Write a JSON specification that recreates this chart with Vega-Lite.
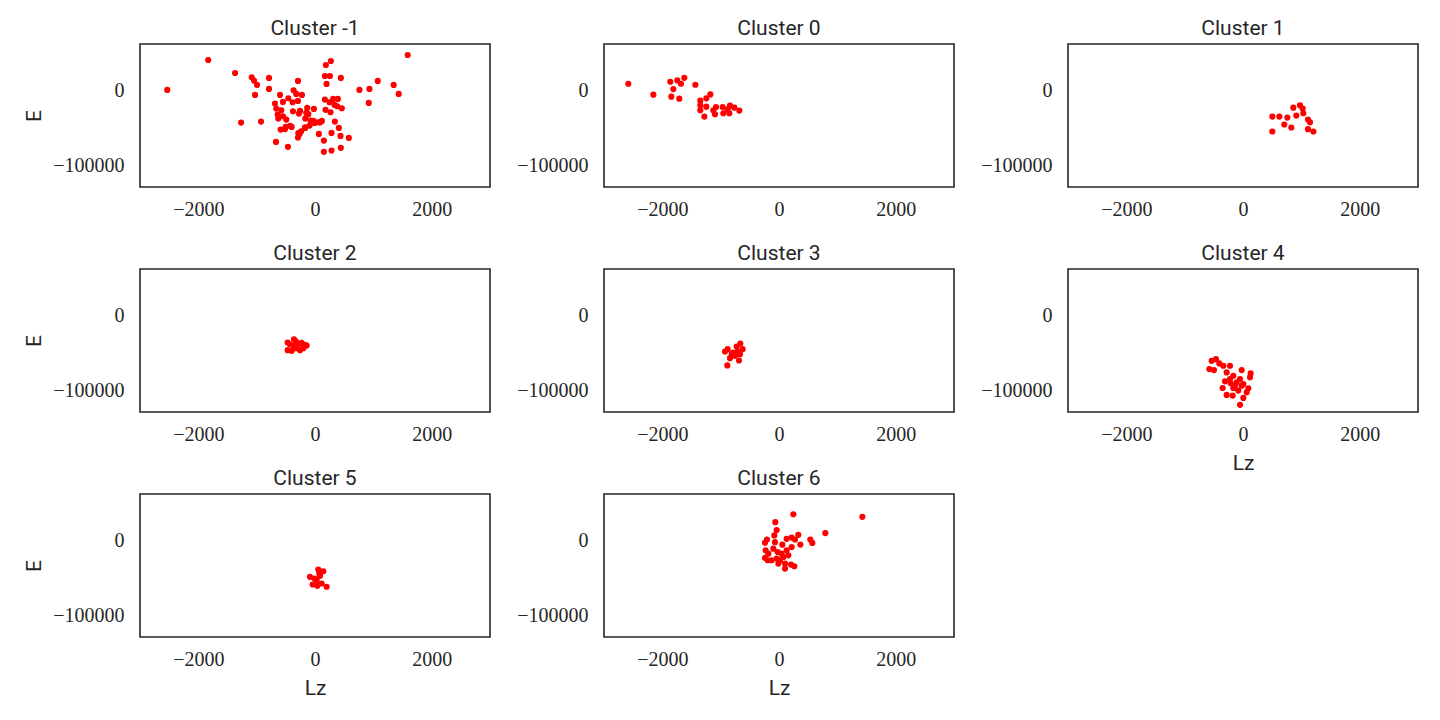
{
  "$schema": "https://vega.github.io/schema/vega-lite/v6.json",
  "background": "white",
  "padding": {"left": 22, "top": 17, "right": 5, "bottom": 5},
  "datasets": {
    "pts": [
      {"c": -1, "Lz": -2533, "E": 280}, {"c": -1, "Lz": -1831, "E": 39880}, {"c": -1, "Lz": -1370, "E": 22720},
      {"c": -1, "Lz": -1085, "E": 17000}, {"c": -1, "Lz": -1045, "E": 12600}, {"c": -1, "Lz": -994, "E": 6880},
      {"c": -1, "Lz": -788, "E": 16120}, {"c": -1, "Lz": -788, "E": 1600}, {"c": -1, "Lz": -1028, "E": -6320},
      {"c": -1, "Lz": -1267, "E": -42840}, {"c": -1, "Lz": -925, "E": -41520}, {"c": -1, "Lz": -669, "E": -68360},
      {"c": -1, "Lz": -464, "E": -74960}, {"c": -1, "Lz": -292, "E": 12160}, {"c": -1, "Lz": -367, "E": -160},
      {"c": -1, "Lz": -321, "E": -5000}, {"c": -1, "Lz": -224, "E": -6320}, {"c": -1, "Lz": -600, "E": -6320},
      {"c": -1, "Lz": -686, "E": -17760}, {"c": -1, "Lz": -549, "E": -15560}, {"c": -1, "Lz": -458, "E": -10720},
      {"c": -1, "Lz": -384, "E": -16000}, {"c": -1, "Lz": -292, "E": -14240}, {"c": -1, "Lz": -663, "E": -24360},
      {"c": -1, "Lz": -578, "E": -26560}, {"c": -1, "Lz": -640, "E": -32280}, {"c": -1, "Lz": -549, "E": -34480},
      {"c": -1, "Lz": -492, "E": -38880}, {"c": -1, "Lz": -629, "E": -37560}, {"c": -1, "Lz": -589, "E": -52080},
      {"c": -1, "Lz": -503, "E": -48560}, {"c": -1, "Lz": -401, "E": -48560}, {"c": -1, "Lz": -378, "E": -27880},
      {"c": -1, "Lz": -275, "E": -30960}, {"c": -1, "Lz": -133, "E": -23480}, {"c": -1, "Lz": -150, "E": -30080},
      {"c": -1, "Lz": -19, "E": -24800}, {"c": -1, "Lz": -167, "E": -37560}, {"c": -1, "Lz": -76, "E": -40200},
      {"c": -1, "Lz": -8, "E": -43280}, {"c": -1, "Lz": -93, "E": -46800}, {"c": -1, "Lz": -167, "E": -49880},
      {"c": -1, "Lz": -236, "E": -54280}, {"c": -1, "Lz": -292, "E": -62640}, {"c": -1, "Lz": -264, "E": -57800},
      {"c": -1, "Lz": 48, "E": -42400}, {"c": -1, "Lz": 118, "E": -40640}, {"c": -1, "Lz": 169, "E": -12480},
      {"c": -1, "Lz": 249, "E": -16000}, {"c": -1, "Lz": 312, "E": -11600}, {"c": -1, "Lz": 392, "E": -11600},
      {"c": -1, "Lz": 335, "E": -19520}, {"c": -1, "Lz": 381, "E": -21280}, {"c": -1, "Lz": 460, "E": -23920},
      {"c": -1, "Lz": 181, "E": -26000}, {"c": -1, "Lz": 266, "E": -29200}, {"c": -1, "Lz": 341, "E": -41520},
      {"c": -1, "Lz": 409, "E": -49880}, {"c": -1, "Lz": 283, "E": -56480}, {"c": -1, "Lz": 66, "E": -57800},
      {"c": -1, "Lz": 437, "E": -60440}, {"c": -1, "Lz": 580, "E": -63080}, {"c": -1, "Lz": 152, "E": -66600},
      {"c": -1, "Lz": 152, "E": -81560}, {"c": -1, "Lz": 283, "E": -79800}, {"c": -1, "Lz": 443, "E": -76280},
      {"c": -1, "Lz": 186, "E": 33280}, {"c": -1, "Lz": 272, "E": 38560}, {"c": -1, "Lz": 169, "E": 18760},
      {"c": -1, "Lz": 255, "E": 18760}, {"c": -1, "Lz": 198, "E": 8200}, {"c": -1, "Lz": 443, "E": 16120},
      {"c": -1, "Lz": 762, "E": 280}, {"c": -1, "Lz": 933, "E": 1600}, {"c": -1, "Lz": 1076, "E": 12160},
      {"c": -1, "Lz": 1349, "E": 6880}, {"c": -1, "Lz": 1435, "E": -5000}, {"c": -1, "Lz": 922, "E": -16880},
      {"c": -1, "Lz": 1589, "E": 46480}, {"c": -1, "Lz": -257, "E": -27400}, {"c": -1, "Lz": -114, "E": -31750},
      {"c": -1, "Lz": -429, "E": -47000}, {"c": -1, "Lz": -514, "E": -51500}, {"c": -1, "Lz": -171, "E": -49250},
      {"c": -1, "Lz": -29, "E": -40500}, {"c": -1, "Lz": -286, "E": -56800}, {"c": -1, "Lz": 86, "E": -42700},

      {"c": 0, "Lz": -2583, "E": 8440}, {"c": 0, "Lz": -2154, "E": -6010}, {"c": 0, "Lz": -1863, "E": 11070},
      {"c": 0, "Lz": -1743, "E": 12820}, {"c": 0, "Lz": -1680, "E": 8440}, {"c": 0, "Lz": -1623, "E": 16320},
      {"c": 0, "Lz": -1811, "E": 1430}, {"c": 0, "Lz": -1846, "E": -8640}, {"c": 0, "Lz": -1709, "E": -11270},
      {"c": 0, "Lz": -1434, "E": 7130}, {"c": 0, "Lz": -1177, "E": -5580}, {"c": 0, "Lz": -1246, "E": -10830},
      {"c": 0, "Lz": -1349, "E": -13900}, {"c": 0, "Lz": -1349, "E": -20030}, {"c": 0, "Lz": -1349, "E": -26600},
      {"c": 0, "Lz": -1246, "E": -21780}, {"c": 0, "Lz": -1280, "E": -34920}, {"c": 0, "Lz": -1126, "E": -26600},
      {"c": 0, "Lz": -1080, "E": -22220}, {"c": 0, "Lz": -1097, "E": -31860}, {"c": 0, "Lz": -966, "E": -22220},
      {"c": 0, "Lz": -954, "E": -30540}, {"c": 0, "Lz": -880, "E": -25290}, {"c": 0, "Lz": -840, "E": -20470},
      {"c": 0, "Lz": -851, "E": -30540}, {"c": 0, "Lz": -766, "E": -23100}, {"c": 0, "Lz": -680, "E": -27040},

      {"c": 1, "Lz": 503, "E": -34920}, {"c": 1, "Lz": 623, "E": -34920}, {"c": 1, "Lz": 760, "E": -36240},
      {"c": 1, "Lz": 863, "E": -23100}, {"c": 1, "Lz": 914, "E": -33610}, {"c": 1, "Lz": 977, "E": -20030},
      {"c": 1, "Lz": 1023, "E": -24410}, {"c": 1, "Lz": 1034, "E": -30540}, {"c": 1, "Lz": 1114, "E": -38860},
      {"c": 1, "Lz": 1149, "E": -42370}, {"c": 1, "Lz": 708, "E": -45430}, {"c": 1, "Lz": 828, "E": -49380},
      {"c": 1, "Lz": 503, "E": -54630}, {"c": 1, "Lz": 1114, "E": -51570}, {"c": 1, "Lz": 1206, "E": -54630},

      {"c": 2, "Lz": -469, "E": -36240}, {"c": 2, "Lz": -469, "E": -46310}, {"c": 2, "Lz": -360, "E": -31860},
      {"c": 2, "Lz": -371, "E": -40620}, {"c": 2, "Lz": -286, "E": -38430}, {"c": 2, "Lz": -171, "E": -39300},
      {"c": 2, "Lz": -257, "E": -46310}, {"c": 2, "Lz": -400, "E": -47180}, {"c": 2, "Lz": -314, "E": -43680},
      {"c": 2, "Lz": -200, "E": -43680}, {"c": 2, "Lz": -429, "E": -38430}, {"c": 2, "Lz": -326, "E": -34920},
      {"c": 2, "Lz": -229, "E": -36680}, {"c": 2, "Lz": -143, "E": -40180},

      {"c": 3, "Lz": -926, "E": -48060}, {"c": 3, "Lz": -880, "E": -44990}, {"c": 3, "Lz": -663, "E": -37550},
      {"c": 3, "Lz": -726, "E": -41490}, {"c": 3, "Lz": -623, "E": -44990}, {"c": 3, "Lz": -789, "E": -49380},
      {"c": 3, "Lz": -669, "E": -51570}, {"c": 3, "Lz": -840, "E": -56820}, {"c": 3, "Lz": -754, "E": -53760},
      {"c": 3, "Lz": -686, "E": -59890}, {"c": 3, "Lz": -886, "E": -66460}, {"c": 3, "Lz": -811, "E": -51570},
      {"c": 3, "Lz": -709, "E": -48060},

      {"c": 4, "Lz": -537, "E": -60330}, {"c": 4, "Lz": -463, "E": -58140}, {"c": 4, "Lz": -577, "E": -71280},
      {"c": 4, "Lz": -497, "E": -72590}, {"c": 4, "Lz": -406, "E": -63830}, {"c": 4, "Lz": -337, "E": -66900},
      {"c": 4, "Lz": -223, "E": -66900}, {"c": 4, "Lz": -280, "E": -75660}, {"c": 4, "Lz": -166, "E": -80040},
      {"c": 4, "Lz": -23, "E": -72590}, {"c": 4, "Lz": 131, "E": -76970}, {"c": 4, "Lz": 120, "E": -82230},
      {"c": 4, "Lz": -309, "E": -87480}, {"c": 4, "Lz": -223, "E": -84420}, {"c": 4, "Lz": -109, "E": -88800},
      {"c": 4, "Lz": -51, "E": -84420}, {"c": 4, "Lz": 6, "E": -90990}, {"c": 4, "Lz": -349, "E": -96240},
      {"c": 4, "Lz": -166, "E": -96240}, {"c": 4, "Lz": -80, "E": -99740}, {"c": 4, "Lz": 91, "E": -96680},
      {"c": 4, "Lz": 63, "E": -101940}, {"c": 4, "Lz": -280, "E": -105440}, {"c": 4, "Lz": -177, "E": -106320},
      {"c": 4, "Lz": 6, "E": -109380}, {"c": 4, "Lz": -51, "E": -118580}, {"c": 4, "Lz": -137, "E": -93180},
      {"c": 4, "Lz": -23, "E": -93180}, {"c": 4, "Lz": -211, "E": -90110},

      {"c": 5, "Lz": -86, "E": -48500}, {"c": 5, "Lz": 57, "E": -38860}, {"c": 5, "Lz": 143, "E": -41050},
      {"c": 5, "Lz": 86, "E": -47180}, {"c": 5, "Lz": 29, "E": -52880}, {"c": 5, "Lz": -40, "E": -58570},
      {"c": 5, "Lz": 40, "E": -60330}, {"c": 5, "Lz": 114, "E": -57260}, {"c": 5, "Lz": 200, "E": -61640},
      {"c": 5, "Lz": -11, "E": -50690}, {"c": 5, "Lz": 74, "E": -44120},

      {"c": 6, "Lz": 246, "E": 34280}, {"c": 6, "Lz": 1429, "E": 30780}, {"c": 6, "Lz": -63, "E": 23770},
      {"c": 6, "Lz": -40, "E": 13260}, {"c": 6, "Lz": -80, "E": 6250}, {"c": 6, "Lz": -206, "E": 870},
      {"c": 6, "Lz": -240, "E": -3510}, {"c": 6, "Lz": -69, "E": -2630}, {"c": 6, "Lz": 131, "E": 1750},
      {"c": 6, "Lz": 217, "E": 3370}, {"c": 6, "Lz": 274, "E": 870}, {"c": 6, "Lz": 331, "E": 7000},
      {"c": 6, "Lz": 366, "E": -5820}, {"c": 6, "Lz": 537, "E": 750}, {"c": 6, "Lz": 571, "E": -3630},
      {"c": 6, "Lz": 794, "E": 9320}, {"c": 6, "Lz": -229, "E": -13460}, {"c": 6, "Lz": -183, "E": -17840},
      {"c": 6, "Lz": -240, "E": -23530}, {"c": 6, "Lz": -194, "E": -26600}, {"c": 6, "Lz": -97, "E": -11270},
      {"c": 6, "Lz": -23, "E": -15650}, {"c": 6, "Lz": 57, "E": -6010}, {"c": 6, "Lz": 46, "E": -17840},
      {"c": 6, "Lz": 131, "E": -13460}, {"c": 6, "Lz": 217, "E": -9080}, {"c": 6, "Lz": -40, "E": -24410},
      {"c": 6, "Lz": 74, "E": -22220}, {"c": 6, "Lz": 160, "E": -20030}, {"c": 6, "Lz": -11, "E": -30980},
      {"c": 6, "Lz": 103, "E": -30980}, {"c": 6, "Lz": 103, "E": -37550}, {"c": 6, "Lz": 206, "E": -32290},
      {"c": 6, "Lz": 263, "E": -34480}, {"c": 6, "Lz": -126, "E": -26600}, {"c": 6, "Lz": 17, "E": -26600}
    ]
  },
  "data": {"name": "pts"},
  "columns": 3,
  "bounds": "flush",
  "spacing": {"row": 82, "column": 114},
  "concat": [
    {"title": "Cluster -1", "width": 350, "height": 143,
     "transform": [{"filter": "datum.c == -1"}],
     "mark": {"type": "circle", "size": 38, "color": "#ff0000", "opacity": 1},
     "encoding": {
       "x": {"field": "Lz", "type": "quantitative", "scale": {"domain": [-3000, 3000], "nice": false, "zero": false}, "axis": {"title": null, "values": [-2000, 0, 2000]}},
       "y": {"field": "E", "type": "quantitative", "scale": {"domain": [-128000, 61000], "nice": false, "zero": false}, "axis": {"title": "E", "values": [-100000, 0]}}
     }},
    {"title": "Cluster 0", "width": 350, "height": 143,
     "transform": [{"filter": "datum.c == 0"}],
     "mark": {"type": "circle", "size": 38, "color": "#ff0000", "opacity": 1},
     "encoding": {
       "x": {"field": "Lz", "type": "quantitative", "scale": {"domain": [-3000, 3000], "nice": false, "zero": false}, "axis": {"title": null, "values": [-2000, 0, 2000]}},
       "y": {"field": "E", "type": "quantitative", "scale": {"domain": [-128000, 61000], "nice": false, "zero": false}, "axis": {"title": null, "values": [-100000, 0]}}
     }},
    {"title": "Cluster 1", "width": 350, "height": 143,
     "transform": [{"filter": "datum.c == 1"}],
     "mark": {"type": "circle", "size": 38, "color": "#ff0000", "opacity": 1},
     "encoding": {
       "x": {"field": "Lz", "type": "quantitative", "scale": {"domain": [-3000, 3000], "nice": false, "zero": false}, "axis": {"title": null, "values": [-2000, 0, 2000]}},
       "y": {"field": "E", "type": "quantitative", "scale": {"domain": [-128000, 61000], "nice": false, "zero": false}, "axis": {"title": null, "values": [-100000, 0]}}
     }},
    {"title": "Cluster 2", "width": 350, "height": 143,
     "transform": [{"filter": "datum.c == 2"}],
     "mark": {"type": "circle", "size": 38, "color": "#ff0000", "opacity": 1},
     "encoding": {
       "x": {"field": "Lz", "type": "quantitative", "scale": {"domain": [-3000, 3000], "nice": false, "zero": false}, "axis": {"title": null, "values": [-2000, 0, 2000]}},
       "y": {"field": "E", "type": "quantitative", "scale": {"domain": [-128000, 61000], "nice": false, "zero": false}, "axis": {"title": "E", "values": [-100000, 0]}}
     }},
    {"title": "Cluster 3", "width": 350, "height": 143,
     "transform": [{"filter": "datum.c == 3"}],
     "mark": {"type": "circle", "size": 38, "color": "#ff0000", "opacity": 1},
     "encoding": {
       "x": {"field": "Lz", "type": "quantitative", "scale": {"domain": [-3000, 3000], "nice": false, "zero": false}, "axis": {"title": null, "values": [-2000, 0, 2000]}},
       "y": {"field": "E", "type": "quantitative", "scale": {"domain": [-128000, 61000], "nice": false, "zero": false}, "axis": {"title": null, "values": [-100000, 0]}}
     }},
    {"title": "Cluster 4", "width": 350, "height": 143,
     "transform": [{"filter": "datum.c == 4"}],
     "mark": {"type": "circle", "size": 38, "color": "#ff0000", "opacity": 1},
     "encoding": {
       "x": {"field": "Lz", "type": "quantitative", "scale": {"domain": [-3000, 3000], "nice": false, "zero": false}, "axis": {"title": "Lz", "values": [-2000, 0, 2000]}},
       "y": {"field": "E", "type": "quantitative", "scale": {"domain": [-128000, 61000], "nice": false, "zero": false}, "axis": {"title": null, "values": [-100000, 0]}}
     }},
    {"title": "Cluster 5", "width": 350, "height": 143,
     "transform": [{"filter": "datum.c == 5"}],
     "mark": {"type": "circle", "size": 38, "color": "#ff0000", "opacity": 1},
     "encoding": {
       "x": {"field": "Lz", "type": "quantitative", "scale": {"domain": [-3000, 3000], "nice": false, "zero": false}, "axis": {"title": "Lz", "values": [-2000, 0, 2000]}},
       "y": {"field": "E", "type": "quantitative", "scale": {"domain": [-128000, 61000], "nice": false, "zero": false}, "axis": {"title": "E", "values": [-100000, 0]}}
     }},
    {"title": "Cluster 6", "width": 350, "height": 143,
     "transform": [{"filter": "datum.c == 6"}],
     "mark": {"type": "circle", "size": 38, "color": "#ff0000", "opacity": 1},
     "encoding": {
       "x": {"field": "Lz", "type": "quantitative", "scale": {"domain": [-3000, 3000], "nice": false, "zero": false}, "axis": {"title": "Lz", "values": [-2000, 0, 2000]}},
       "y": {"field": "E", "type": "quantitative", "scale": {"domain": [-128000, 61000], "nice": false, "zero": false}, "axis": {"title": null, "values": [-100000, 0]}}
     }}
  ],
  "config": {
    "view": {"stroke": "#262626", "strokeWidth": 1.6},
    "axis": {"grid": false, "ticks": false, "domain": false, "format": "d",
             "labelFont": "Liberation Serif", "labelFontSize": 20, "labelColor": "#262626", "labelPadding": 12,
             "titleFont": "Roboto", "titleFontSize": 21, "titleFontWeight": "normal", "titleColor": "#262626", "titlePadding": 8},
    "axisY": {"labelPadding": 16},
    "title": {"font": "Roboto", "fontSize": 21, "fontWeight": "normal", "color": "#262626", "offset": 5}
  }
}
